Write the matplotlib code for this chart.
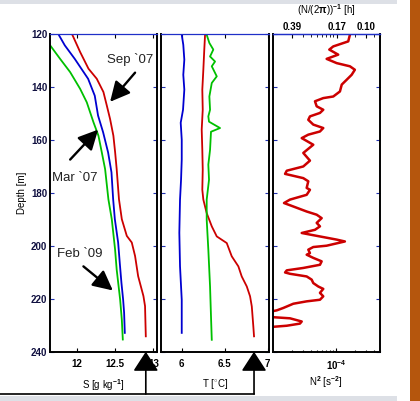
import matplotlib
matplotlib.use("Agg")
import numpy as np
import matplotlib.pyplot as plt
from matplotlib.patches import FancyArrowPatch, Rectangle
from matplotlib.lines import Line2D
from matplotlib.ticker import LogLocator, FixedLocator, FixedFormatter, NullFormatter

plt.rcParams.update({
    "font.family": ["Liberation Sans", "DejaVu Sans"],
    "font.size": 7,
    "font.weight": "bold",
    "mathtext.fontset": "custom",
    "mathtext.rm": "Liberation Sans:bold",
    "mathtext.bf": "Liberation Sans:bold",
    "mathtext.it": "Liberation Sans:bold:italic",
    "mathtext.default": "bf",
})

RED, BLUE, GREEN = "#cc0000", "#0000d0", "#00c000"

# ---- Salinity profiles [g/kg] vs depth [m]
s_depth_sep07 = [120, 126.9, 133.2, 137, 142, 147.1, 152.2, 158.5, 164.8, 171.1, 182.5,
                 190, 196.3, 198.8, 203.9, 211.5, 219, 222.8, 234.2]
s_sep07 = [11.935, 12.043, 12.152, 12.26, 12.347, 12.391, 12.434, 12.477, 12.5, 12.52, 12.55,
           12.587, 12.652, 12.717, 12.76, 12.80, 12.869, 12.89, 12.9]

s_depth_mar07 = [120, 124.4, 129.5, 137, 143.4, 150.9, 157.2, 164.8, 172.3, 182.5,
                 190, 198.8, 206.4, 214, 220.3, 225.3, 232.9]
s_mar07 = [11.756, 11.843, 11.973, 12.147, 12.234, 12.277, 12.343, 12.408, 12.452, 12.474,
           12.496, 12.539, 12.56, 12.582, 12.604, 12.617, 12.626]

s_depth_feb09 = [120, 124.4, 129.5, 134.5, 140.8, 145.9, 153.4, 158.5, 164.8, 171.1, 182.5,
                 190, 201.4, 209, 220.3, 227.9, 235.4]
s_feb09 = [11.54, 11.652, 11.782, 11.913, 12.043, 12.13, 12.217, 12.282, 12.326, 12.369, 12.412,
           12.456, 12.499, 12.52, 12.565, 12.587, 12.6]

# ---- Temperature profiles [degC] vs depth [m]
t_depth_sep07 = [120.4, 126, 133.6, 141.1, 148.7, 156.2, 163.8, 171.3, 178.9, 182.6, 187.7,
                 192.7, 196.5, 199, 204, 207.8, 211.6, 215.4, 219.1, 222.9, 230.5, 234.2]
t_sep07 = [6.272, 6.263, 6.252, 6.24, 6.245, 6.233, 6.24, 6.245, 6.24, 6.252, 6.291,
           6.35, 6.408, 6.524, 6.582, 6.659, 6.698, 6.757, 6.795, 6.815, 6.833, 6.841]

t_depth_mar07 = [120.4, 124.2, 129.8, 135.5, 141.1, 148.7, 153.6, 160, 167.5, 175.1, 182.6,
                 195.1, 207.8, 220.4, 232.9]
t_mar07 = [6.001, 6.019, 6.031, 6.019, 6.031, 6.016, 5.989, 6.001, 6.001, 5.993, 5.981,
           5.973, 5.981, 6.001, 6.001]

t_depth_feb09 = [120.4, 123.5, 126, 128.6, 130.5, 132.3, 136.1, 138.6, 143.7, 148.7, 151.2,
                 153.2, 155.6, 157, 163.8, 169.4, 175.1, 182.6, 190.2, 201.5, 215.4, 226.7, 235.5]
t_feb09 = [6.291, 6.322, 6.368, 6.33, 6.388, 6.35, 6.408, 6.35, 6.322, 6.33, 6.31,
           6.318, 6.446, 6.341, 6.33, 6.31, 6.318, 6.291, 6.291, 6.31, 6.33, 6.341, 6.35]

# ---- Buoyancy frequency squared [1e-5 s^-2] vs depth [m]
n2_depth = [120.4, 122.9, 124.8, 126, 127.9, 129.5, 131.1, 132.3, 133.6, 135.5, 137.4, 139.2,
            141.8, 143.7, 144.3, 145.5, 147.4, 148.7, 149.9, 151.2, 152.5, 154.3, 155.6, 156.9,
            158.1, 159.4, 161.9, 165, 167.9, 170.1, 171.7, 172.9, 174.5, 175.7, 178.2, 178.9,
            180.8, 182.6, 183.9, 185.2, 187.1, 188.3, 189.6, 191.4, 192.7, 194, 195.2, 195.8,
            197.7, 198.4, 200, 200.5, 201.5, 202.8, 203.4, 204.6, 205.9, 207.2, 208.4, 209.3,
            210.1, 210.6, 211.6, 212.8, 214.1, 215.4, 216.3, 217.8, 219.1, 220.4, 221, 221.9,
            223.5, 224.4, 224.9, 226, 226.9, 227.4, 228.6, 229.4, 230.2, 230.7, 231]
n2_e5 = [16.7, 15.7, 9.1, 7.87, 10.9, 7.14, 10.3, 16.7, 20.0, 17.8, 14.8, 12.4,
         11.6, 9.1, 6.32, 4.67, 4.97, 6.32, 5.6, 3.89, 3.66, 4.39, 6.32, 5.6,
         3.66, 2.88, 4.39, 3.05, 3.89, 3.05, 1.67, 1.57, 3.05, 3.66, 3.45, 3.89,
         3.45, 1.88, 1.51, 2.12, 3.45, 4.97, 5.96, 4.97, 5.6, 4.67, 2.88, 3.89,
         10.3, 13.9, 7.14, 4.39, 3.66, 3.89, 3.45, 4.39, 5.96, 5.6, 3.05, 1.67,
         1.57, 1.88, 3.45, 4.14, 4.39, 5.27, 6.32, 5.6, 6.32, 5.6, 3.45, 2.12,
         1.47, 1.16, 0.91, 0.63, 0.91, 1.88, 2.88, 2.7, 1.67, 0.91, 0.63]

depth_ticks = [120, 140, 160, 180, 200, 220, 240]
s_ticks = [12, 12.5, 13]
s_tick_labels = ["12", "12.5", "13"]
t_ticks = [6, 6.5, 7]
t_tick_labels = ["6", "6.5", "7"]
period_hours = [0.39, 0.17, 0.10]
period_labels = ["0.39", "0.17", "0.10"]

W, H = 420, 401
fig = plt.figure(figsize=(W / 100, H / 100), dpi=100)


def px_axes(left, right, top, bottom):
    return fig.add_axes([left / W, (H - bottom) / H, (right - left) / W, (bottom - top) / H])


ax1 = px_axes(50, 157.3, 33.7, 351.7)
ax2 = px_axes(161, 269, 33.7, 351.7)
ax3 = px_axes(272.7, 380, 33.7, 351.7)

for ax in (ax1, ax2, ax3):
    ax.set_ylim(240, 120)
    ax.yaxis.set_major_locator(FixedLocator(depth_ticks))
    ax.tick_params(axis="y", which="both", direction="in", length=3, width=0.8,
                   color="#2030b0", left=True, right=True, pad=2)
    ax.tick_params(axis="x", which="both", direction="in", width=0.8,
                   color="black", top=True, bottom=True, pad=5)
    ax.tick_params(axis="x", which="major", length=3)
    ax.tick_params(axis="x", which="minor", length=1.8)
    for side in ("left", "right", "bottom"):
        ax.spines[side].set_linewidth(1.4)
        ax.spines[side].set_color("black")
    ax.spines["top"].set_linewidth(0.9)
    ax.spines["top"].set_color("#2030c8")

# Salinity panel
ax1.plot(s_sep07, s_depth_sep07, color=RED, lw=1.3)
ax1.plot(s_mar07, s_depth_mar07, color=BLUE, lw=1.3)
ax1.plot(s_feb09, s_depth_feb09, color=GREEN, lw=1.3)
ax1.set_xlim(11.65, 13.05)
ax1.xaxis.set_major_locator(FixedLocator(s_ticks))
ax1.xaxis.set_major_formatter(FixedFormatter(s_tick_labels))
ax1.set_yticklabels([str(d) for d in depth_ticks], color="#101040")
ax1.set_ylabel("Depth [m]", labelpad=3)
ax1.set_xlabel("S [g kg$^{-1}$]", labelpad=6)

arrow_kw = dict(arrowstyle="-|>,head_length=0.8,head_width=0.4", color="black",
                lw=1.7, mutation_scale=15, shrinkA=0, shrinkB=0)
ax1.annotate("", xy=(12.434, 145.7), xytext=(12.76, 134.7), arrowprops=arrow_kw)
ax1.annotate("", xy=(12.278, 156.2), xytext=(11.913, 167.5), arrowprops=arrow_kw)
ax1.annotate("", xy=(12.47, 216.9), xytext=(12.086, 207.8), arrowprops=arrow_kw)
label_kw = dict(fontsize=9.5, fontweight="normal", ha="center", va="center", color="#222222")
ax1.text(12.695, 129.8, "Sep `07", **label_kw)
ax1.text(11.978, 174.3, "Mar `07", **label_kw)
ax1.text(12.04, 203.0, "Feb `09", **label_kw)

# Temperature panel
ax2.plot(t_sep07, t_depth_sep07, color=RED, lw=1.3)
ax2.plot(t_mar07, t_depth_mar07, color=BLUE, lw=1.3)
ax2.plot(t_feb09, t_depth_feb09, color=GREEN, lw=1.3)
ax2.set_xlim(5.76, 7.015)
ax2.xaxis.set_major_locator(FixedLocator(t_ticks))
ax2.xaxis.set_major_formatter(FixedFormatter(t_tick_labels))
ax2.set_yticklabels([])
ax2.set_xlabel("T [$^{\\circ}$C]", labelpad=6)

# Stratification panel
n2 = np.array(n2_e5) * 1e-5
ax3.plot(n2, n2_depth, color=RED, lw=1.8, solid_joinstyle="round")
ax3.set_xscale("log")
ax3.set_xlim(1e-5, 5e-4)
ax3.xaxis.set_major_locator(FixedLocator([1e-4]))
ax3.xaxis.set_minor_locator(LogLocator(base=10, subs=np.arange(2, 10)))
ax3.xaxis.set_minor_formatter(NullFormatter())
ax3.set_yticklabels([])
ax3.set_xlabel("N$^2$ [s$^{-2}$]", labelpad=1)
ax3.tick_params(axis="x", which="both", top=False)

ax3t = ax3.twiny()
ax3t.set_xscale("log")
ax3t.set_xlim(ax3.get_xlim())
period_n2 = [(2 * np.pi / (p * 3600)) ** 2 for p in period_hours]
ax3t.xaxis.set_major_locator(FixedLocator(period_n2))
ax3t.xaxis.set_major_formatter(FixedFormatter(period_labels))
ax3t.xaxis.set_minor_locator(LogLocator(base=10, subs=np.arange(2, 10)))
ax3t.xaxis.set_minor_formatter(NullFormatter())
ax3t.tick_params(axis="x", which="both", direction="in", color="black", pad=1)
ax3t.tick_params(axis="x", which="major", length=3)
ax3t.tick_params(axis="x", which="minor", length=1.8)
for side in ("left", "right", "bottom"):
    ax3t.spines[side].set_visible(False)
ax3t.spines["top"].set_linewidth(0.9)
ax3t.spines["top"].set_color("#2030c8")
ax3t.set_xlabel("(N/(2$\\pi$))$^{-1}$ [h]", labelpad=6)

# Frame decorations around the figure
fig.add_artist(Rectangle((0, 1 - 4 / H), 397 / W, 4 / H, transform=fig.transFigure,
                         color="#dde0e6", lw=0))
fig.add_artist(Rectangle((0, 0), 397 / W, 5 / H, transform=fig.transFigure,
                         color="#dde0e6", lw=0))
fig.add_artist(Rectangle((410 / W, 0), 10 / W, 1, transform=fig.transFigure,
                         color="#b5560d", lw=0))

# Arrows marking the deepest September values of S and T
line_y = (H - 394) / H
axis_bottom = (H - 351.7) / H
inv = fig.transFigure.inverted()
x_s = inv.transform(ax1.transData.transform((s_sep07[-1], 240)))[0]
x_t = inv.transform(ax2.transData.transform((t_sep07[-1], 240)))[0]
fig.add_artist(Line2D([0, x_t], [line_y, line_y], transform=fig.transFigure,
                      color="black", lw=1.2))
for xa in (x_s, x_t):
    fig.add_artist(FancyArrowPatch((xa, line_y), (xa, axis_bottom), transform=fig.transFigure,
                                   arrowstyle="-|>,head_length=1.05,head_width=0.68",
                                   mutation_scale=11.5, color="black", lw=1.2,
                                   shrinkA=0, shrinkB=0, zorder=10))

fig.savefig("out.png", dpi=100)
